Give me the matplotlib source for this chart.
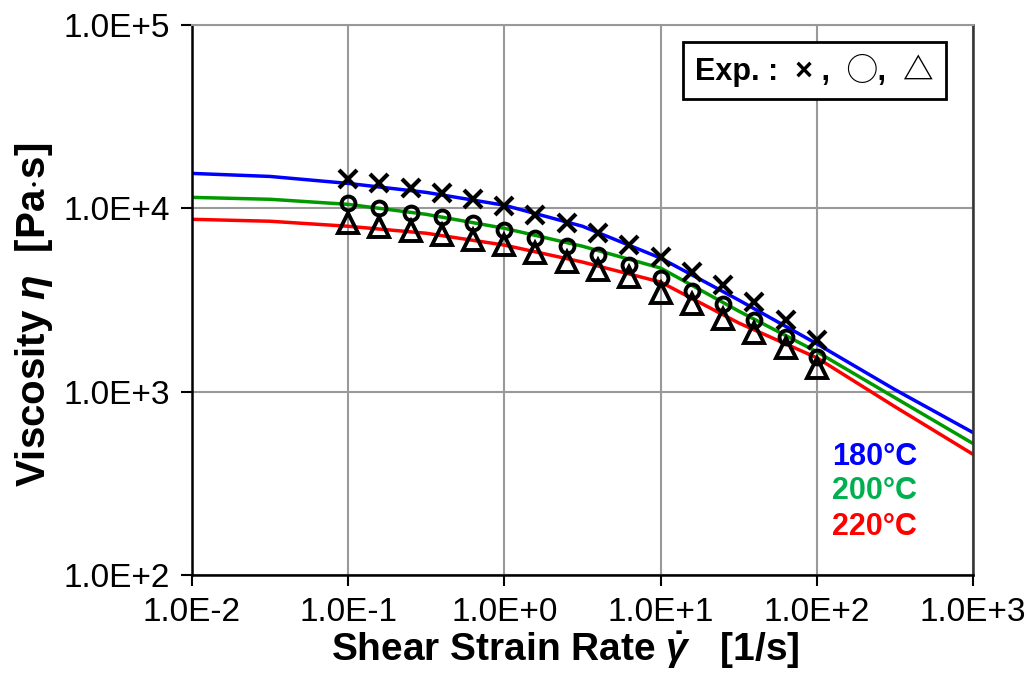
import numpy as np
import matplotlib
matplotlib.use('Agg')
import matplotlib.pyplot as plt
from matplotlib.ticker import FixedLocator, FuncFormatter, NullLocator

plt.rcParams['font.family'] = ['Liberation Sans', 'DejaVu Sans']
plt.rcParams['mathtext.fontset'] = 'custom'
plt.rcParams['mathtext.it'] = 'Liberation Sans:italic:bold'
plt.rcParams['mathtext.rm'] = 'Liberation Sans:bold'

# model curves
x_line = [0.01, 0.0316, 0.1, 0.316, 1, 3.16, 10, 31.6, 100, 316, 1000]
eta_180 = [15500, 14920, 13670, 12210, 10390, 7980, 5350, 3160, 1823, 1026, 598]
eta_200 = [11470, 11200, 10510, 9270, 7780, 6210, 4720, 2750, 1650, 927, 521]
eta_220 = [8710, 8500, 7980, 7310, 6300, 5090, 3960, 2370, 1530, 828, 455]

# experiment points
x_exp = [0.1, 0.158, 0.251, 0.398, 0.631, 1, 1.58, 2.51, 3.98, 6.31,
         10, 15.8, 25.1, 39.8, 63.1, 100]
exp_180 = [14380, 13670, 12840, 12065, 11190, 10250, 9160, 8290, 7310, 6290,
           5420, 4490, 3815, 3085, 2460, 1917]
exp_200 = [10650, 10000, 9390, 8940, 8290, 7590, 6860, 6210, 5550, 4900,
           4170, 3540, 3010, 2460, 1990, 1550]
exp_220 = [8290, 7880, 7500, 7130, 6690, 6290, 5690, 5090, 4600, 4220,
           3450, 3010, 2490, 2090, 1730, 1350]

fig = plt.figure(figsize=(10.3, 6.84), dpi=100)
ax = fig.add_axes([0.1864, 0.1594, 0.7583, 0.8041])

ax.plot(x_line, eta_180, color='#0000FF', lw=2.5)
ax.plot(x_line, eta_200, color='#009A00', lw=2.5)
ax.plot(x_line, eta_220, color='#FF0000', lw=2.5)

ax.plot(x_exp, exp_180, ls='none', marker='x', ms=13, mew=3, color='black')
ax.plot(x_exp, exp_200, ls='none', marker='o', ms=10, mew=2.8, mfc='none', mec='black')
ax.plot(x_exp, exp_220, ls='none', marker='^', ms=14, mew=2.8, mfc='none', mec='black')

ax.set_xscale('log')
ax.set_yscale('log')
ax.set_xlim(1e-2, 1e3)
ax.set_ylim(1e2, 1e5)
ax.xaxis.set_major_locator(FixedLocator([1e-2, 1e-1, 1, 1e1, 1e2, 1e3]))
ax.yaxis.set_major_locator(FixedLocator([1e2, 1e3, 1e4, 1e5]))
ax.xaxis.set_minor_locator(NullLocator())
ax.yaxis.set_minor_locator(NullLocator())
fmt = FuncFormatter(lambda v, p: '1.0E%+d' % int(round(np.log10(v))))
ax.xaxis.set_major_formatter(fmt)
ax.yaxis.set_major_formatter(fmt)
ax.tick_params(labelsize=24, length=8, width=1.5, direction='out', pad=8)
ax.grid(True, color='#999999', lw=1.5)
ax.set_axisbelow(True)
for s in ['left', 'bottom']:
    ax.spines[s].set_linewidth(1.8)
    ax.spines[s].set_color('black')
ax.spines['right'].set_color('#333333')
ax.spines['right'].set_linewidth(1.8)
ax.spines['top'].set_color('#999999')
ax.spines['top'].set_linewidth(1.5)

ax.set_xlabel(r'Shear Strain Rate $\dot{\gamma}$   [1/s]', fontsize=28, fontweight='bold')
ax.xaxis.set_label_coords(0.4776, -0.1)
ax.set_ylabel(r'Viscosity $\eta$  [Pa$\cdot$s]', fontsize=29, fontweight='bold')
ax.yaxis.set_label_coords(-0.176, 0.473)

ax.text(0.797, 0.917, 'Exp. :  \u00d7 ,  \u25ef,  \u25b3', transform=ax.transAxes,
        fontsize=22, fontweight='bold', ha='center', va='center',
        family=['Liberation Sans', 'Noto Sans CJK JP', 'DejaVu Sans'],
        bbox=dict(boxstyle='square,pad=0.4', fc='white', ec='black', lw=2))

temp_kw = dict(transform=ax.transAxes, fontsize=22, fontweight='bold',
               ha='left', va='center')
ax.text(0.82, 0.215, '180\u00b0C', color='#0000FF', **temp_kw)
ax.text(0.82, 0.152, '200\u00b0C', color='#00B050', **temp_kw)
ax.text(0.82, 0.087, '220\u00b0C', color='#FF0000', **temp_kw)

fig.savefig('out.png', dpi=100)
